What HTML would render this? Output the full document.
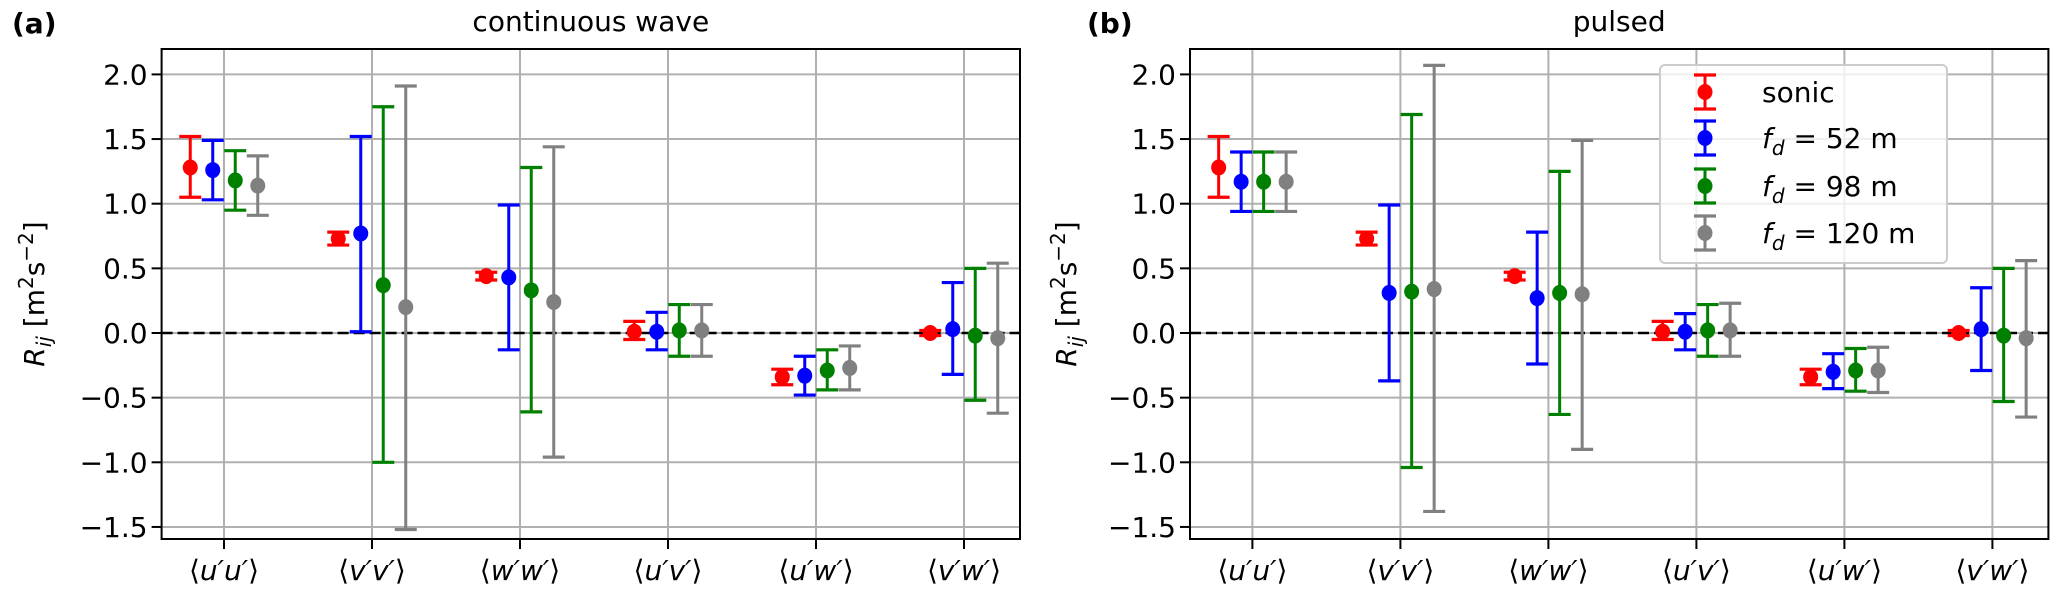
<!DOCTYPE html>
<html><head><meta charset="utf-8">
<style>
html,body{margin:0;padding:0;background:#fff;}
svg{display:block;font-family:"DejaVu Sans","Liberation Sans",sans-serif;}
</style></head>
<body>
<svg id="fig" width="2067" height="596" viewBox="0 0 2067 596" xmlns="http://www.w3.org/2000/svg"></svg>
<script>
const categories = ["u′u′","v′v′","w′w′","u′v′","u′w′","v′w′"];
const seriesNames = ["sonic","f_d = 52 m","f_d = 98 m","f_d = 120 m"];
const yTicks = [2.0,1.5,1.0,0.5,0.0,-0.5,-1.0,-1.5];
const yTickLabels = ["2.0","1.5","1.0","0.5","0.0","−0.5","−1.0","−1.5"];
// panel a (continuous wave)
const cwSonic = [1.28,0.73,0.44,0.01,-0.34,0.0];
const cwSonicLo = [1.05,0.68,0.41,-0.05,-0.40,-0.02];
const cwSonicHi = [1.52,0.78,0.47,0.09,-0.28,0.02];
const cw52 = [1.26,0.77,0.43,0.01,-0.33,0.03];
const cw52Lo = [1.03,0.01,-0.13,-0.13,-0.48,-0.32];
const cw52Hi = [1.49,1.52,0.99,0.16,-0.18,0.39];
const cw98 = [1.18,0.37,0.33,0.02,-0.29,-0.02];
const cw98Lo = [0.95,-1.00,-0.61,-0.18,-0.44,-0.52];
const cw98Hi = [1.41,1.75,1.28,0.22,-0.13,0.50];
const cw120 = [1.14,0.20,0.24,0.02,-0.27,-0.04];
const cw120Lo = [0.91,-1.52,-0.96,-0.18,-0.44,-0.62];
const cw120Hi = [1.37,1.91,1.44,0.22,-0.10,0.54];
// panel b (pulsed)
const pSonic = [1.28,0.73,0.44,0.01,-0.34,0.0];
const pSonicLo = [1.05,0.68,0.41,-0.05,-0.40,-0.02];
const pSonicHi = [1.52,0.78,0.47,0.09,-0.28,0.02];
const p52 = [1.17,0.31,0.27,0.01,-0.30,0.03];
const p52Lo = [0.94,-0.37,-0.24,-0.13,-0.43,-0.29];
const p52Hi = [1.40,0.99,0.78,0.15,-0.16,0.35];
const p98 = [1.17,0.32,0.31,0.02,-0.29,-0.02];
const p98Lo = [0.94,-1.04,-0.63,-0.18,-0.45,-0.53];
const p98Hi = [1.40,1.69,1.25,0.22,-0.12,0.50];
const p120 = [1.17,0.34,0.30,0.02,-0.29,-0.04];
const p120Lo = [0.94,-1.38,-0.90,-0.18,-0.46,-0.65];
const p120Hi = [1.40,2.07,1.49,0.23,-0.11,0.56];

const colors = ["#ff0000","#0000ff","#008000","#808080"];
const NS = "http://www.w3.org/2000/svg";
const svg = document.getElementById("fig");
function mk(tag, attrs, parent){const e=document.createElementNS(NS,tag);for(const k in attrs)e.setAttribute(k,attrs[k]);(parent||svg).appendChild(e);return e;}

function panel(left, title, letter, letterX, ylabX, data, name){
  const top=49,bottom=539,right=left+858.4;
  const y0=333, unit=129.3;
  const ys=v=>y0-v*unit;
  const xs=i=>left+62.4+148*i;
  const g=mk("g",{});
  
  
  // grid
  yTicks.forEach((t,k)=>{
    const l=mk("line",{x1:left,x2:right,y1:ys(t),y2:ys(t),stroke:"#b0b0b0","stroke-width":2},g);
    
    
    mk("line",{x1:left-10,x2:left,y1:ys(t),y2:ys(t),stroke:"#000","stroke-width":2},g);
    const tx=mk("text",{x:left-14,y:ys(t)+10,"text-anchor":"end","font-size":28},g);
    tx.textContent=yTickLabels[k];
    
    
  });
  categories.forEach((c,i)=>{
    const l=mk("line",{x1:xs(i),x2:xs(i),y1:top,y2:bottom,stroke:"#b0b0b0","stroke-width":2},g);
    
    
    mk("line",{x1:xs(i),x2:xs(i),y1:bottom,y2:bottom+10,stroke:"#000","stroke-width":2},g);
    const tx=mk("text",{x:xs(i),y:580,"text-anchor":"middle","font-size":28},g);
    tx.innerHTML='⟨<tspan font-style="italic">'+c+'</tspan>⟩';
    
    
  });
  const z=mk("line",{x1:left,x2:right,y1:ys(0),y2:ys(0),stroke:"#000","stroke-width":2.6,"stroke-dasharray":"11,5"},g);
  
  
  const offs=[-33.75,-11.25,11.25,33.75];
  data.forEach((s,si)=>{
    const [vals,lo,hi]=s;
    vals.forEach((v,i)=>{
      const x=xs(i)+offs[si], col=colors[si];
      const eg=mk("g",{},g);
      
      
      mk("line",{x1:x,x2:x,y1:ys(lo[i]),y2:ys(hi[i]),stroke:col,"stroke-width":3},eg);
      mk("line",{x1:x-11,x2:x+11,y1:ys(lo[i]),y2:ys(lo[i]),stroke:col,"stroke-width":3.2},eg);
      mk("line",{x1:x-11,x2:x+11,y1:ys(hi[i]),y2:ys(hi[i]),stroke:col,"stroke-width":3.2},eg);
      mk("ellipse",{cx:x,cy:ys(v),rx:7.5,ry:8,fill:col},eg);
    });
  });
  const fr=mk("rect",{x:left,y:top,width:right-left,height:bottom-top,fill:"none",stroke:"#000","stroke-width":2},g);
  
  
  const tt=mk("text",{x:(left+right)/2,y:31,"text-anchor":"middle","font-size":28},g);
  tt.textContent=title;
  
  
  const lt=mk("text",{x:letterX,y:33,"font-size":28,"font-weight":"bold"},g);
  lt.textContent=letter;
  
  
  const yl=mk("text",{x:0,y:0,"text-anchor":"middle","font-size":28,transform:"translate("+ylabX+",294) rotate(-90)"},g);
  yl.innerHTML='<tspan font-style="italic">R</tspan><tspan font-style="italic" font-size="20" dy="7">ij</tspan><tspan dy="-7"> [m</tspan><tspan font-size="20" dy="-11">2</tspan><tspan dy="11">s</tspan><tspan font-size="20" dy="-11">−2</tspan><tspan dy="11">]</tspan>';
  
  
}
panel(161.6,"continuous wave","(a)",12,44,[[cwSonic,cwSonicLo,cwSonicHi],[cw52,cw52Lo,cw52Hi],[cw98,cw98Lo,cw98Hi],[cw120,cw120Lo,cw120Hi]],"panel-continuous-wave");
panel(1190,"pulsed","(b)",1087,1076,[[pSonic,pSonicLo,pSonicHi],[p52,p52Lo,p52Hi],[p98,p98Lo,p98Hi],[p120,p120Lo,p120Hi]],"panel-pulsed");

// legend
const lg=mk("g",{});


mk("rect",{x:1660,y:65,width:287,height:198,rx:5,fill:"#fff","fill-opacity":0.8,stroke:"#cccccc","stroke-width":2},lg);
const rowsY=[92,138,186,233];
seriesNames.forEach((n,i)=>{
  const e=mk("g",{},lg);
  
  
  const c=colors[i], x=1705, y=rowsY[i];
  mk("line",{x1:x,x2:x,y1:y-17,y2:y+17,stroke:c,"stroke-width":3},e);
  mk("line",{x1:x-11,x2:x+11,y1:y-17,y2:y-17,stroke:c,"stroke-width":3.2},e);
  mk("line",{x1:x-11,x2:x+11,y1:y+17,y2:y+17,stroke:c,"stroke-width":3.2},e);
  mk("ellipse",{cx:x,cy:y,rx:7.5,ry:8,fill:c},e);
  const t=mk("text",{x:1762,y:y+10,"font-size":28},e);
  if(i===0) t.textContent=n;
  else t.innerHTML='<tspan font-style="italic">f</tspan><tspan font-style="italic" font-size="20" dy="7">d</tspan><tspan dy="-7"> = '+n.split("= ")[1]+'</tspan>';
});
</script>
</body></html>
